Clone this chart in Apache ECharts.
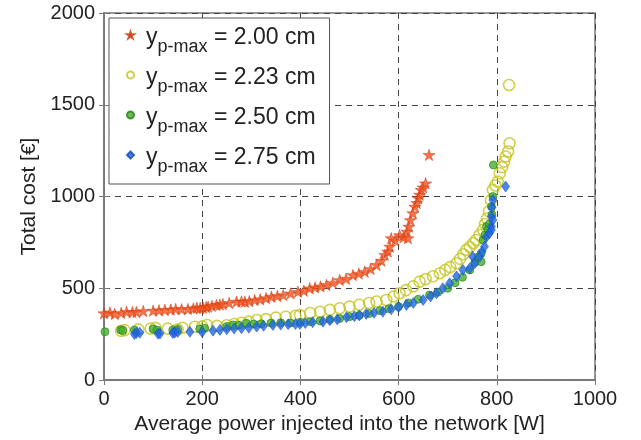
<!DOCTYPE html>
<html>
<head>
<meta charset="utf-8">
<script src="https://cdn.jsdelivr.net/npm/echarts@6/dist/echarts.min.js"></script>
<style>
html,body{margin:0;padding:0;background:#fff;}
#chart{width:641px;height:440px;}
</style>
</head>
<body>
<div id="chart"></div>
<script>
// ---- data ----
const xTicks = [0, 200, 400, 600, 800, 1000];
const yTicks = [0, 500, 1000, 1500, 2000];
const seriesNames = ['2.00 cm', '2.23 cm', '2.50 cm', '2.75 cm'];

const powerA = [0,12,22,35,46,58,66,80,100,112,124,136,146,158,171,182,189,196,202,208,212,220,229,236,242,255,270,280,287,296,307,318,330,341,353,365,380,395,407,419,430,441,453,466,480,493,507,519,531,543,555,565,572,578,582,585,593,602,610,617,619,621,624,629,633,637,640,643,646,650,655,662];
const costA  = [364,368,360,366,372,370,371,376,378,380,382,384,387,386,387,390,394,392,394,397,400,404,409,411,414,420,427,428,427,430,436,440,446,454,458,463,472,481,486,500,505,510,518,530,545,552,572,580,590,605,627,650,682,700,727,773,760,790,778,809,773,836,872,909,945,965,991,1010,1036,1050,1072,1227];

const powerB = [35,42,70,95,105,130,150,160,185,200,210,230,250,265,280,295,311,330,350,370,390,399,420,440,460,480,500,520,540,555,575,590,602,615,630,643,655,670,684,695,705,718,725,732,738,745,752,758,765,772,776,780,784,788,792,797,802,806,811,815,818,823,826,825];
const costB  = [268,272,276,280,284,280,276,285,290,292,300,295,298,305,312,318,327,332,340,345,350,354,365,372,382,391,400,410,420,428,436,455,473,490,510,536,550,565,582,600,615,636,660,685,709,725,745,763,790,818,850,880,920,980,1036,1060,1081,1127,1160,1190,1218,1245,1290,1608];

const powerC = [2,34,38,62,100,108,140,150,195,205,250,263,275,290,305,320,340,360,380,400,420,440,460,480,500,520,540,562,580,600,620,640,663,680,700,715,730,745,755,762,768,768,772,776,779,783,785,789,790,792,793];
const costC  = [263,273,270,272,278,272,273,276,278,282,292,300,298,309,305,306,310,312,310,315,318,322,330,335,345,352,362,378,388,400,420,440,463,478,500,530,560,600,640,670,645,690,763,790,836,820,850,945,900,1000,1172];

const powerD = [62,66,73,110,114,140,144,150,175,200,222,236,250,265,280,295,311,325,344,360,375,390,399,410,425,446,460,475,494,510,520,534,550,568,585,600,616,630,650,665,677,690,704,718,731,745,751,755,765,770,775,779,785,789,789,789,790,792,792,818];
const costD  = [250,256,258,252,254,256,258,262,263,262,269,273,276,280,282,285,291,295,300,302,304,305,305,310,315,318,325,330,342,348,352,360,366,372,385,398,409,420,436,455,473,500,527,565,600,609,672,636,672,700,727,781,800,836,818,890,940,981,872,1054];

function zip(xs, ys) { return xs.map((x, i) => [x, ys[i]]); }

const FONT = 'Liberation Sans, Arial, Helvetica, sans-serif';
const STAR = 'path://M50,0 L61.2,34.5 L97.6,34.5 L68.2,55.9 L79.4,90.5 L50,69.1 L20.6,90.5 L31.8,55.9 L2.4,34.5 L38.8,34.5 Z';

const chart = echarts.init(document.getElementById('chart'), null, {renderer: 'canvas'});

const axisCommon = {
  type: 'value',
  axisLine: {show: true, lineStyle: {color: '#7a7a7a', width: 1.5}},
  axisTick: {show: true, inside: true, length: 5, lineStyle: {color: '#7a7a7a', width: 1}},
};
const plain = v => String(v);

const option = {
  backgroundColor: '#fff',
  animation: false,
  textStyle: {fontFamily: FONT},
  grid: {left: 104, right: 46, top: 13, bottom: 60, show: true, borderColor: '#7a7a7a', borderWidth: 1.5, backgroundColor: 'transparent'},
  xAxis: [
    Object.assign({}, axisCommon, {
      min: xTicks[0], max: xTicks[xTicks.length - 1], interval: 200,
      position: 'bottom',
      name: 'Average power injected into the network [W]',
      nameLocation: 'middle', nameGap: 27,
      nameTextStyle: {fontSize: 21, color: '#222', fontFamily: FONT, padding: [0, 20, 0, 0]},
      axisLabel: {fontSize: 20, color: '#222', margin: 9, fontFamily: FONT, formatter: plain},
      splitLine: {show: true, lineStyle: {color: '#444', width: 1, type: [6, 5]}}
    }),
    Object.assign({}, axisCommon, {
      min: xTicks[0], max: xTicks[xTicks.length - 1], interval: 200,
      position: 'top', axisLabel: {show: false}, splitLine: {show: false}
    })
  ],
  yAxis: [
    Object.assign({}, axisCommon, {
      min: yTicks[0], max: yTicks[yTicks.length - 1], interval: 500,
      position: 'left',
      name: 'Total cost [€]',
      nameLocation: 'middle', nameGap: 61,
      nameTextStyle: {fontSize: 21, color: '#222', fontFamily: FONT},
      axisLabel: {fontSize: 20, color: '#222', margin: 9, fontFamily: FONT, formatter: plain},
      splitLine: {show: true, lineStyle: {color: '#444', width: 1, type: [6, 5]}}
    }),
    Object.assign({}, axisCommon, {
      min: yTicks[0], max: yTicks[yTicks.length - 1], interval: 500,
      position: 'right', axisLabel: {show: false}, splitLine: {show: false}
    })
  ],
  legend: {
    orient: 'vertical',
    left: 109, top: 18,
    padding: [4, 14, 8, 17],
    itemGap: 6,
    itemWidth: 7, itemHeight: 7,
    backgroundColor: '#fff',
    borderColor: '#555', borderWidth: 1, borderRadius: 0,
    data: seriesNames,
    formatter: function (name) { return '{y|y}{s|p-max}{t| = ' + name + '}'; },
    textStyle: {
      fontFamily: FONT, color: '#222',
      rich: {
        y: {fontSize: 23, lineHeight: 26, padding: [4, 0, 0, 7], verticalAlign: 'top', fontFamily: FONT, color: '#222'},
        s: {fontSize: 18, lineHeight: 20, padding: [16, 0, 0, 0], verticalAlign: 'top', fontFamily: FONT, color: '#222'},
        t: {fontSize: 23, lineHeight: 26, padding: [4, 0, 0, 0], verticalAlign: 'top', fontFamily: FONT, color: '#222'}
      }
    }
  },
  series: [
    {
      name: seriesNames[0], type: 'scatter', data: zip(powerA, costA),
      symbol: STAR, symbolSize: 12, symbolKeepAspect: true,
      itemStyle: {color: '#f4511e', borderColor: '#c8380c', borderWidth: 0.6}
    },
    {
      name: seriesNames[1], type: 'scatter', data: zip(powerB, costB),
      symbol: 'circle', symbolSize: 11,
      itemStyle: {color: 'rgba(255,255,255,0)', borderColor: '#c4c420', borderWidth: 1.6}
    },
    {
      name: seriesNames[2], type: 'scatter', data: zip(powerC, costC),
      symbol: 'circle', symbolSize: 8,
      itemStyle: {color: '#44b02c', borderColor: '#2b7d1a', borderWidth: 0.8}
    },
    {
      name: seriesNames[3], type: 'scatter', data: zip(powerD, costD),
      symbol: 'diamond', symbolSize: [8, 11],
      itemStyle: {color: '#2066e6', borderColor: '#1448b8', borderWidth: 0.6}
    }
  ]
};
chart.setOption(option);
</script>
</body>
</html>
